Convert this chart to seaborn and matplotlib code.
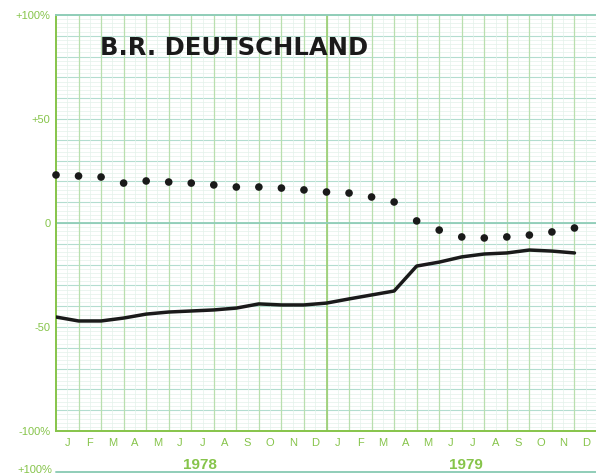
import numpy as np
import pandas as pd
import matplotlib
matplotlib.use("Agg")
import matplotlib.pyplot as plt
import seaborn as sns
from matplotlib.lines import Line2D

sns.set_theme(style="white")
plt.rcParams['font.family'] = ['Liberation Sans', 'DejaVu Sans']

# ---- data ----
months = ["J", "F", "M", "A", "M", "J", "J", "A", "S", "O", "N", "D",
          "J", "F", "M", "A", "M", "J", "J", "A", "S", "O", "N", "D"]
years = ["1978", "1979"]
dotted_series = [23.1, 22.6, 22.1, 19.2, 20.2, 19.7, 19.2, 18.3, 17.3, 17.3, 16.8, 15.9,
                 14.9, 14.4, 12.5, 10.1, 1.0, -3.4, -6.7, -7.2, -6.7, -5.8, -4.3, -2.4]
solid_series = [-45.2, -47.1, -47.1, -45.7, -43.8, -42.8, -42.3, -41.8, -40.9, -38.9, -39.4, -39.4,
                -38.5, -36.5, -34.6, -32.7, -20.7, -18.8, -16.3, -14.9, -14.4, -13.0, -13.5, -14.4]
ytick_vals = [100, 50, 0, -50, -100]
ytick_labels = ["+100%", "+50", "0", "-50", "-100%"]

df = pd.DataFrame({"idx": np.arange(len(months)),
                   "dots": dotted_series, "line": solid_series})

GREEN = "#86c44a"
GRID = "#b3ddd0"
GRID_V = "#b9dfae"
GRID_FAINT = "#e3f2ea"

fig = plt.figure(figsize=(5.96, 4.76), dpi=100)
W, H = 596, 476
left_px, right_px, top_px, bot_px = 56, 597, 15, 431
ax = fig.add_axes([left_px / W, 1 - bot_px / H, (right_px - left_px) / W, (bot_px - top_px) / H])
ax.set_xlim(0, 24)
ax.set_ylim(-100, 100)

# grid
for y in np.arange(-100, 101, 2):
    ax.axhline(y, color=GRID_FAINT, lw=0.5, zorder=0)
for y in np.arange(-90, 100, 10):
    ax.axhline(y, color=GRID, lw=0.8, zorder=0)
for x in np.arange(0.5, 24, 1):
    ax.axvline(x, color=GRID_FAINT, lw=0.5, zorder=0)
for x in range(1, 24):
    ax.axvline(x, color=GRID_V, lw=0.9, zorder=0)
ax.axvline(12, color="#9fd07a", lw=1.3, zorder=0)
ax.axhline(0, color="#8fcdb8", lw=1.3, zorder=0)

for s in ax.spines.values():
    s.set_color(GREEN)
    s.set_linewidth(1.4)
ax.spines["top"].set_color("#8fcdb8")
ax.spines["right"].set_visible(False)

sns.lineplot(data=df, x="idx", y="line", ax=ax, color="#1a1a1a", lw=2.5, zorder=3)
sns.scatterplot(data=df, x="idx", y="dots", ax=ax, color="#1a1a1a", s=30,
                edgecolor="none", zorder=3, clip_on=False)

ax.set_xlabel("")
ax.set_ylabel("")
ax.set_xticks(np.arange(len(months)) + 0.5)
ax.set_xticklabels(months, color=GREEN, fontsize=8)
ax.set_yticks(ytick_vals)
ax.set_yticklabels(ytick_labels, color=GREEN, fontsize=8)
ax.tick_params(axis="both", length=0, pad=4)
ax.tick_params(axis="x", pad=5)

# year labels
for i, yr in enumerate(years):
    ax.text(6.4 + 11.8 * i, -116.5, yr, ha="center", va="center", color=GREEN,
            fontsize=11, fontweight="bold")

# title
fig.text(100 / W, 1 - 48 / H, "B.R. DEUTSCHLAND", ha="left", va="center",
         fontsize=17.5, fontweight="bold", color="#1a1a1a", family="DejaVu Sans")

# next panel fragment at the bottom
fig.text(52 / W, 1 - 470 / H, "+100%", ha="right", va="center", color=GREEN, fontsize=8)
fig.add_artist(Line2D([left_px / W, 1.0], [1 - 472 / H, 1 - 472 / H], color="#8fcdb8", lw=1.4))

fig.savefig("out.png", dpi=100)
